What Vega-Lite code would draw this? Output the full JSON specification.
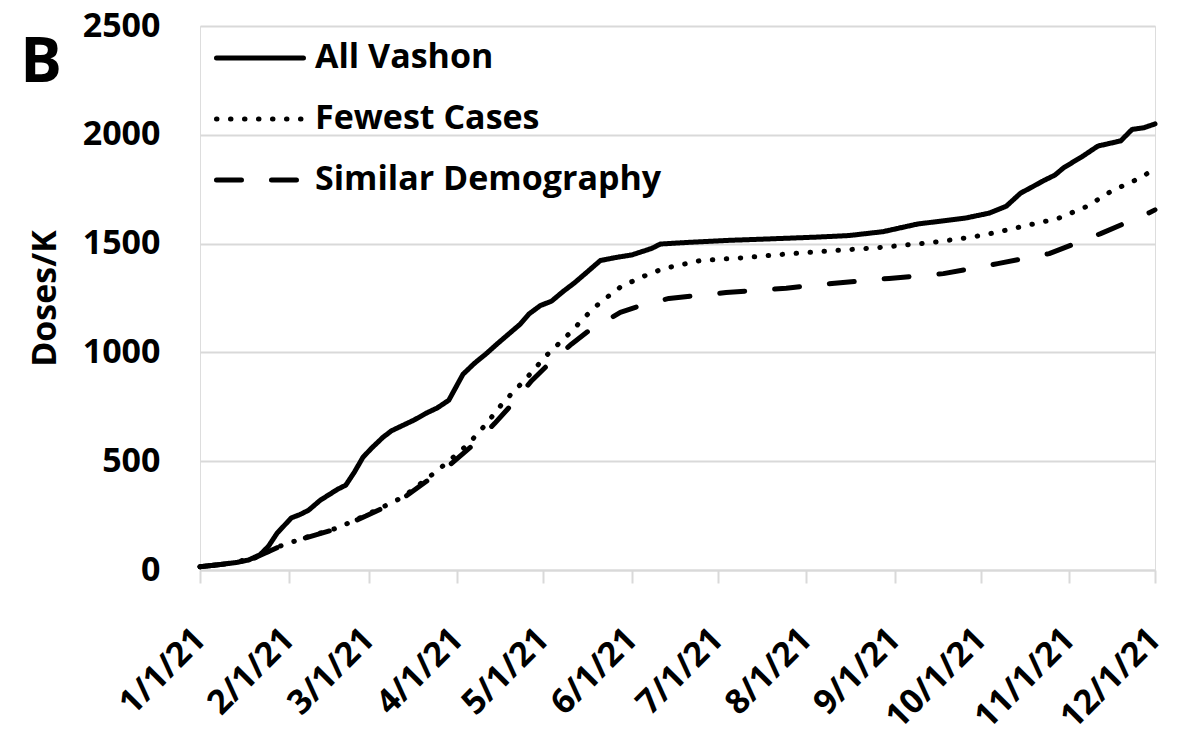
{
  "$schema": "https://vega.github.io/schema/vega-lite/v6.json",
  "width": 955,
  "height": 544,
  "autosize": {"type": "none"},
  "padding": {"left": 200, "top": 26, "right": 48, "bottom": 186},
  "background": "white",
  "title": {"text": "B", "anchor": "start", "frame": "bounds", "font": "Open Sans", "fontWeight": "bold", "fontSize": 62, "color": "black", "offset": 0, "baseline": "alphabetic", "dy": 135, "dx": -8},
  "data": {
    "format": {"parse": {"date": "date:'%Y-%m-%d'"}},
    "values": [
      {"series": "All Vashon", "date": "2021-01-01", "value": 15},
      {"series": "All Vashon", "date": "2021-01-08", "value": 25},
      {"series": "All Vashon", "date": "2021-01-14", "value": 35},
      {"series": "All Vashon", "date": "2021-01-18", "value": 46},
      {"series": "All Vashon", "date": "2021-01-22", "value": 70},
      {"series": "All Vashon", "date": "2021-01-25", "value": 110},
      {"series": "All Vashon", "date": "2021-01-28", "value": 170},
      {"series": "All Vashon", "date": "2021-02-02", "value": 240},
      {"series": "All Vashon", "date": "2021-02-05", "value": 255},
      {"series": "All Vashon", "date": "2021-02-08", "value": 275},
      {"series": "All Vashon", "date": "2021-02-12", "value": 320},
      {"series": "All Vashon", "date": "2021-02-15", "value": 345},
      {"series": "All Vashon", "date": "2021-02-18", "value": 370},
      {"series": "All Vashon", "date": "2021-02-21", "value": 390},
      {"series": "All Vashon", "date": "2021-02-24", "value": 450},
      {"series": "All Vashon", "date": "2021-02-27", "value": 518},
      {"series": "All Vashon", "date": "2021-03-02", "value": 560},
      {"series": "All Vashon", "date": "2021-03-06", "value": 610},
      {"series": "All Vashon", "date": "2021-03-09", "value": 640},
      {"series": "All Vashon", "date": "2021-03-13", "value": 665},
      {"series": "All Vashon", "date": "2021-03-17", "value": 690},
      {"series": "All Vashon", "date": "2021-03-21", "value": 720},
      {"series": "All Vashon", "date": "2021-03-25", "value": 745},
      {"series": "All Vashon", "date": "2021-03-29", "value": 780},
      {"series": "All Vashon", "date": "2021-04-03", "value": 900},
      {"series": "All Vashon", "date": "2021-04-07", "value": 950},
      {"series": "All Vashon", "date": "2021-04-11", "value": 993},
      {"series": "All Vashon", "date": "2021-04-15", "value": 1040},
      {"series": "All Vashon", "date": "2021-04-19", "value": 1085},
      {"series": "All Vashon", "date": "2021-04-23", "value": 1130},
      {"series": "All Vashon", "date": "2021-04-26", "value": 1176},
      {"series": "All Vashon", "date": "2021-04-30", "value": 1215},
      {"series": "All Vashon", "date": "2021-05-04", "value": 1236},
      {"series": "All Vashon", "date": "2021-05-08", "value": 1280},
      {"series": "All Vashon", "date": "2021-05-12", "value": 1320},
      {"series": "All Vashon", "date": "2021-05-16", "value": 1365},
      {"series": "All Vashon", "date": "2021-05-21", "value": 1422},
      {"series": "All Vashon", "date": "2021-05-26", "value": 1435},
      {"series": "All Vashon", "date": "2021-06-01", "value": 1448},
      {"series": "All Vashon", "date": "2021-06-05", "value": 1465},
      {"series": "All Vashon", "date": "2021-06-08", "value": 1478},
      {"series": "All Vashon", "date": "2021-06-11", "value": 1498},
      {"series": "All Vashon", "date": "2021-06-20", "value": 1505},
      {"series": "All Vashon", "date": "2021-07-05", "value": 1515},
      {"series": "All Vashon", "date": "2021-07-20", "value": 1522},
      {"series": "All Vashon", "date": "2021-08-05", "value": 1530},
      {"series": "All Vashon", "date": "2021-08-16", "value": 1537},
      {"series": "All Vashon", "date": "2021-08-28", "value": 1555},
      {"series": "All Vashon", "date": "2021-09-09", "value": 1590},
      {"series": "All Vashon", "date": "2021-09-26", "value": 1618},
      {"series": "All Vashon", "date": "2021-10-04", "value": 1640},
      {"series": "All Vashon", "date": "2021-10-10", "value": 1672},
      {"series": "All Vashon", "date": "2021-10-15", "value": 1732},
      {"series": "All Vashon", "date": "2021-10-19", "value": 1760},
      {"series": "All Vashon", "date": "2021-10-23", "value": 1789},
      {"series": "All Vashon", "date": "2021-10-27", "value": 1815},
      {"series": "All Vashon", "date": "2021-10-30", "value": 1848},
      {"series": "All Vashon", "date": "2021-11-03", "value": 1880},
      {"series": "All Vashon", "date": "2021-11-06", "value": 1904},
      {"series": "All Vashon", "date": "2021-11-11", "value": 1948},
      {"series": "All Vashon", "date": "2021-11-15", "value": 1960},
      {"series": "All Vashon", "date": "2021-11-19", "value": 1972},
      {"series": "All Vashon", "date": "2021-11-23", "value": 2025},
      {"series": "All Vashon", "date": "2021-11-27", "value": 2032},
      {"series": "All Vashon", "date": "2021-12-01", "value": 2050},
      {"series": "Fewest Cases", "date": "2021-01-01", "value": 15},
      {"series": "Fewest Cases", "date": "2021-01-10", "value": 28},
      {"series": "Fewest Cases", "date": "2021-01-20", "value": 55},
      {"series": "Fewest Cases", "date": "2021-01-28", "value": 105},
      {"series": "Fewest Cases", "date": "2021-02-07", "value": 150},
      {"series": "Fewest Cases", "date": "2021-02-18", "value": 193},
      {"series": "Fewest Cases", "date": "2021-02-28", "value": 252},
      {"series": "Fewest Cases", "date": "2021-03-06", "value": 290},
      {"series": "Fewest Cases", "date": "2021-03-13", "value": 335},
      {"series": "Fewest Cases", "date": "2021-03-22", "value": 426},
      {"series": "Fewest Cases", "date": "2021-03-29", "value": 500},
      {"series": "Fewest Cases", "date": "2021-04-05", "value": 581},
      {"series": "Fewest Cases", "date": "2021-04-11", "value": 670},
      {"series": "Fewest Cases", "date": "2021-04-17", "value": 769},
      {"series": "Fewest Cases", "date": "2021-04-25", "value": 879},
      {"series": "Fewest Cases", "date": "2021-05-02", "value": 984},
      {"series": "Fewest Cases", "date": "2021-05-10", "value": 1085},
      {"series": "Fewest Cases", "date": "2021-05-17", "value": 1181},
      {"series": "Fewest Cases", "date": "2021-05-21", "value": 1230},
      {"series": "Fewest Cases", "date": "2021-05-28", "value": 1300},
      {"series": "Fewest Cases", "date": "2021-06-04", "value": 1344},
      {"series": "Fewest Cases", "date": "2021-06-12", "value": 1385},
      {"series": "Fewest Cases", "date": "2021-06-25", "value": 1422},
      {"series": "Fewest Cases", "date": "2021-07-11", "value": 1436},
      {"series": "Fewest Cases", "date": "2021-07-25", "value": 1452},
      {"series": "Fewest Cases", "date": "2021-08-13", "value": 1470},
      {"series": "Fewest Cases", "date": "2021-08-25", "value": 1480},
      {"series": "Fewest Cases", "date": "2021-09-14", "value": 1505},
      {"series": "Fewest Cases", "date": "2021-09-28", "value": 1530},
      {"series": "Fewest Cases", "date": "2021-10-06", "value": 1550},
      {"series": "Fewest Cases", "date": "2021-10-17", "value": 1583},
      {"series": "Fewest Cases", "date": "2021-10-28", "value": 1615},
      {"series": "Fewest Cases", "date": "2021-11-07", "value": 1670},
      {"series": "Fewest Cases", "date": "2021-11-16", "value": 1743},
      {"series": "Fewest Cases", "date": "2021-11-26", "value": 1803},
      {"series": "Fewest Cases", "date": "2021-12-01", "value": 1845},
      {"series": "Similar Demography", "date": "2021-01-01", "value": 15},
      {"series": "Similar Demography", "date": "2021-01-10", "value": 28},
      {"series": "Similar Demography", "date": "2021-01-20", "value": 55},
      {"series": "Similar Demography", "date": "2021-01-28", "value": 103},
      {"series": "Similar Demography", "date": "2021-02-07", "value": 148},
      {"series": "Similar Demography", "date": "2021-02-18", "value": 190},
      {"series": "Similar Demography", "date": "2021-02-28", "value": 248},
      {"series": "Similar Demography", "date": "2021-03-06", "value": 285},
      {"series": "Similar Demography", "date": "2021-03-13", "value": 330},
      {"series": "Similar Demography", "date": "2021-03-22", "value": 415},
      {"series": "Similar Demography", "date": "2021-03-30", "value": 490},
      {"series": "Similar Demography", "date": "2021-04-07", "value": 580},
      {"series": "Similar Demography", "date": "2021-04-14", "value": 673},
      {"series": "Similar Demography", "date": "2021-04-20", "value": 760},
      {"series": "Similar Demography", "date": "2021-04-27", "value": 870},
      {"series": "Similar Demography", "date": "2021-05-04", "value": 960},
      {"series": "Similar Demography", "date": "2021-05-11", "value": 1039},
      {"series": "Similar Demography", "date": "2021-05-18", "value": 1110},
      {"series": "Similar Demography", "date": "2021-05-24", "value": 1153},
      {"series": "Similar Demography", "date": "2021-05-28", "value": 1184},
      {"series": "Similar Demography", "date": "2021-06-04", "value": 1215},
      {"series": "Similar Demography", "date": "2021-06-14", "value": 1248},
      {"series": "Similar Demography", "date": "2021-07-04", "value": 1275},
      {"series": "Similar Demography", "date": "2021-07-25", "value": 1295},
      {"series": "Similar Demography", "date": "2021-08-10", "value": 1317},
      {"series": "Similar Demography", "date": "2021-08-30", "value": 1340},
      {"series": "Similar Demography", "date": "2021-09-18", "value": 1362},
      {"series": "Similar Demography", "date": "2021-10-07", "value": 1408},
      {"series": "Similar Demography", "date": "2021-10-25", "value": 1454},
      {"series": "Similar Demography", "date": "2021-11-12", "value": 1546},
      {"series": "Similar Demography", "date": "2021-11-29", "value": 1642},
      {"series": "Similar Demography", "date": "2021-12-01", "value": 1655}
    ]
  },
  "mark": {"type": "line", "color": "black", "strokeWidth": 5, "strokeCap": "round", "strokeJoin": "round"},
  "encoding": {
    "x": {
      "field": "date", "type": "temporal",
      "scale": {"domain": [{"year": 2021, "month": 1, "date": 1}, {"year": 2021, "month": 12, "date": 1}]},
      "axis": {
        "title": null, "grid": false,
        "tickCount": {"interval": "month", "step": 1},
        "format": "%-m/%-d/%y", "formatType": "time",
        "labelAngle": -45, "labelAlign": "right", "labelBaseline": "middle",
        "labelPadding": 51, "tickSize": 13, "tickColor": "#d9d9d9", "tickWidth": 2,
        "domainColor": "#d9d9d9", "domainWidth": 2,
        "labelFont": "Open Sans", "labelFontWeight": "bold", "labelFontSize": 34, "labelColor": "black",
        "labelOverlap": false, "labelBound": false, "labelFlush": false
      }
    },
    "y": {
      "field": "value", "type": "quantitative",
      "scale": {"domain": [0, 2500], "nice": false},
      "axis": {
        "title": "Doses/K", "values": [0, 500, 1000, 1500, 2000, 2500], "format": "d",
        "domain": false, "ticks": false, "grid": true, "gridColor": "#d9d9d9", "gridWidth": 2,
        "labelFont": "Open Sans", "labelFontWeight": "bold", "labelFontSize": 34, "labelColor": "black",
        "labelPadding": 40,
        "titleFont": "Open Sans", "titleFontWeight": "bold", "titleFontSize": 34, "titleColor": "black",
        "titlePadding": 20
      }
    },
    "strokeDash": {
      "field": "series", "type": "nominal",
      "scale": {"domain": ["All Vashon", "Fewest Cases", "Similar Demography"], "range": [[1, 0], [0.5, 13.5], [25, 30]]},
      "legend": {
        "orient": "top-left", "offset": 15, "title": null, "padding": 0,
        "symbolType": "M-1.07,0H4.93", "symbolSize": 841, "symbolStrokeWidth": 5, "symbolStrokeColor": "black",
        "labelFont": "Open Sans", "labelFontWeight": "bold", "labelFontSize": 34, "labelColor": "black",
        "labelOffset": 66, "rowPadding": 27, "labelLimit": 0,
        "encode": {"symbols": {"update": {"strokeCap": {"value": "round"}}}}
      }
    }
  }
}
